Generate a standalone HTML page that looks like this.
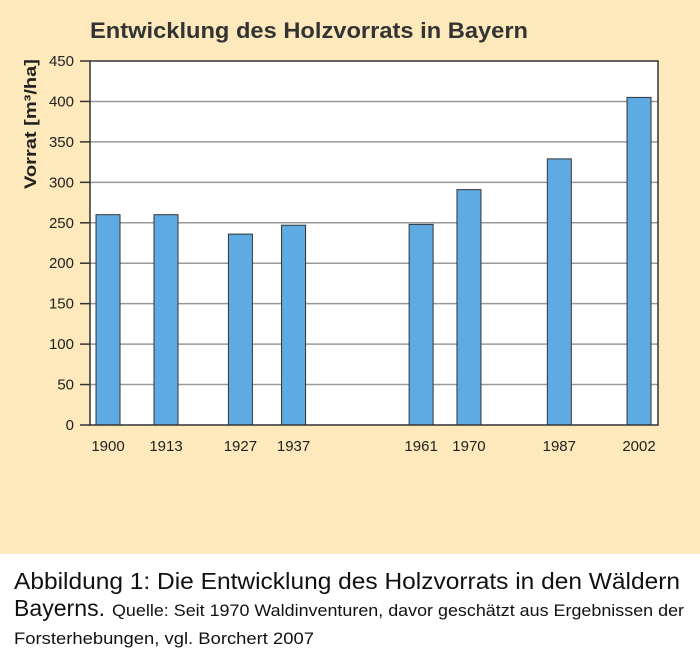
<!DOCTYPE html>
<html><head><meta charset="utf-8"><style>
html,body{margin:0;padding:0;background:#fff}
svg{display:block;font-family:"Liberation Sans",sans-serif}
</style></head><body>
<svg id="chart" width="700" height="656" viewBox="0 0 700 656" xmlns="http://www.w3.org/2000/svg">
<rect x="0" y="0" width="700" height="554" fill="#fde9bb"/>
<text x="90" y="38" font-size="22" font-weight="bold" fill="#333" textLength="438" lengthAdjust="spacingAndGlyphs">Entwicklung des Holzvorrats in Bayern</text>
<text transform="translate(36,124) rotate(-90)" text-anchor="middle" font-size="17" font-weight="bold" fill="#222" textLength="130" lengthAdjust="spacingAndGlyphs">Vorrat [m³/ha]</text>
<rect x="90" y="61" width="568" height="364" fill="#fff"/>
<g id="grid"></g>
<g id="bars"></g>
<rect x="90" y="61" width="568" height="364" fill="none" stroke="#333" stroke-width="1.5"/>
<g id="yticks"></g>
<g id="xticks"></g>
<text x="14" y="589" font-size="23" fill="#111" textLength="666" lengthAdjust="spacingAndGlyphs">Abbildung 1: Die Entwicklung des Holzvorrats in den Wäldern</text>
<text x="14" y="616" font-size="23" fill="#111" textLength="91" lengthAdjust="spacingAndGlyphs">Bayerns.</text>
<text x="112" y="616" font-size="17" fill="#111" textLength="572" lengthAdjust="spacingAndGlyphs">Quelle: Seit 1970 Waldinventuren, davor geschätzt aus Ergebnissen der</text>
<text x="14" y="644" font-size="17" fill="#111" textLength="300" lengthAdjust="spacingAndGlyphs">Forsterhebungen, vgl. Borchert 2007</text>
</svg>
<script>
const years = [1900, 1913, 1927, 1937, 1961, 1970, 1987, 2002];
const values = [260, 260, 236, 247, 248, 291, 329, 405];
const yTicks = [0, 50, 100, 150, 200, 250, 300, 350, 400, 450];
const NS = "http://www.w3.org/2000/svg";
const y0 = 425, y1 = 61, vmax = 450;
function yScale(v){ return y0 - (v / vmax) * (y0 - y1); }
function xScale(yr){ return yr >= 1913 ? 154 + (yr - 1913) * 5.315 : 154 - (1913 - yr) * 4.46; }
const barW = 24;
function mk(tag, attrs){ const e = document.createElementNS(NS, tag); for (const k in attrs) e.setAttribute(k, attrs[k]); return e; }
const grid = document.getElementById('grid'), bars = document.getElementById('bars');
const yt = document.getElementById('yticks'), xt = document.getElementById('xticks');
yTicks.forEach(v => {
  const y = yScale(v);
  if (v > 0 && v < vmax) {
    const g = mk('line', {x1: 90, x2: 658, y1: y, y2: y, stroke: '#999', 'stroke-width': 1.5});
    
    
    grid.appendChild(g);
  }
  const t = mk('line', {x1: 80, x2: 90, y1: y, y2: y, stroke: '#333', 'stroke-width': 1.5});
  
  
  yt.appendChild(t);
  const l = mk('text', {x: 74, y: y + 5, 'text-anchor': 'end', 'font-size': 15, fill: '#222'});
  
  
  l.textContent = v;
  yt.appendChild(l);
});
years.forEach((yr, i) => {
  const cx = xScale(yr) + barW / 2;
  const top = yScale(values[i]);
  const r = mk('rect', {x: cx - barW / 2, y: top, width: barW, height: y0 - top, fill: '#5eabe3', stroke: '#333', 'stroke-width': 1});
  
  
  bars.appendChild(r);
  const l = mk('text', {x: cx, y: 451, 'text-anchor': 'middle', 'font-size': 15, fill: '#222'});
  
  
  l.textContent = yr;
  xt.appendChild(l);
});
</script>
</body></html>
